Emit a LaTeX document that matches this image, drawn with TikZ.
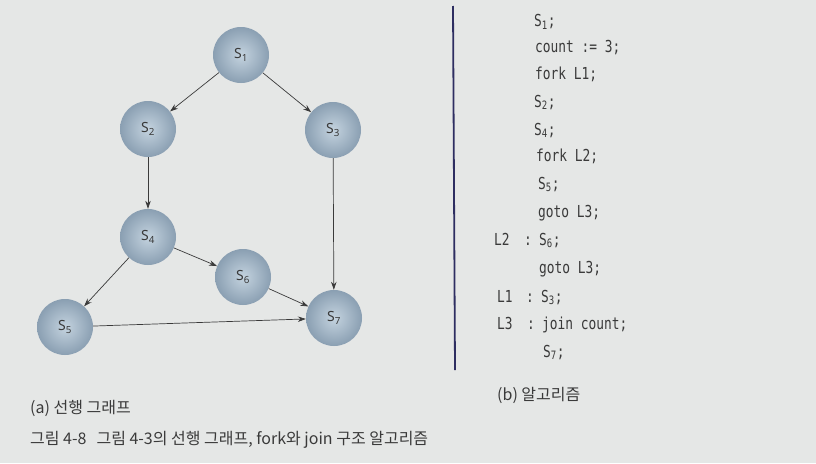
\documentclass[tikz,border=0pt]{standalone}
\usepackage{fontspec}
\setmainfont{Noto Sans}
\newfontfamily\kr{Noto Sans CJK KR}
\newfontfamily\codefont[FakeStretch=0.78]{DejaVu Sans Mono}
\usetikzlibrary{arrows.meta}
\definecolor{bg}{HTML}{E5E7E6}
\definecolor{ballin}{HTML}{C4D3DF}
\definecolor{ballout}{HTML}{8A9FB2}
\definecolor{ink}{HTML}{3A3A3A}
\tikzset{
  proc/.style={circle, minimum size=56pt, inner sep=0pt, inner color=ballin, outer color=ballout, text=ink, font=\fontsize{14}{15}\selectfont},
  arr/.style={draw=ink, line width=0.7pt, -{Stealth[length=8pt,width=5.5pt]}},
  code/.style={anchor=base west, inner sep=0pt, text=ink, font=\codefont\fontsize{16.5}{18}\selectfont},
  captext/.style={anchor=base west, inner sep=0pt, text=ink, font=\kr\fontsize{16}{18}\selectfont}
}
\newcommand{\sx}[1]{S\textsubscript{#1}}
\begin{document}
\begin{tikzpicture}[x=1pt,y=-1pt]
\fill[bg] (0,0) rectangle (816,463);
\useasboundingbox (0,0) rectangle (816,463);
% nodes
\node[proc] (s1) at (241,55) {\sx{1}};
\node[proc] (s2) at (148,129) {\sx{2}};
\node[proc] (s3) at (333,130) {\sx{3}};
\node[proc] (s4) at (148,237) {\sx{4}};
\node[proc] (s6) at (243,277) {\sx{6}};
\node[proc] (s5) at (65,327) {\sx{5}};
\node[proc] (s7) at (334,318) {\sx{7}};
% edges
\draw[arr] (s1) -- (s2);
\draw[arr] (s1) -- (s3);
\draw[arr] (s2) -- (s4);
\draw[arr] (s3) -- (s7);
\draw[arr] (s4) -- (s6);
\draw[arr] (s4) -- (s5);
\draw[arr] (s6) -- (s7);
\draw[arr] (s5) -- (s7);
% divider
\coordinate (vt) at (453,6);
\coordinate (vb) at (455,370);
\draw[draw=ink!80!blue, line width=1.8pt] (vt) -- (vb);
% code
\node[code] (c1) at (534,27) {\sx{1};};
\node[code] (c2) at (535,52) {count := 3;};
\node[code] (c3) at (535,79) {fork L1;};
\node[code] (c4) at (534,107) {\sx{2};};
\node[code] (c5) at (534,135) {\sx{4};};
\node[code] (c6) at (536,161) {fork L2;};
\node[code] (c7) at (538,189) {\sx{5};};
\node[code] (c8) at (538,217) {goto L3;};
\node[code] (c9l) at (494,245) {L2};
\node[code] (c9c) at (524,245) {:};
\node[code] (c9) at (539,245) {\sx{6};};
\node[code] (c10) at (539,273) {goto L3;};
\node[code] (c11l) at (497,302) {L1};
\node[code] (c11c) at (526,302) {:};
\node[code] (c11) at (541,302) {\sx{3};};
\node[code] (c12l) at (497,329) {L3};
\node[code] (c12c) at (527,329) {:};
\node[code] (c12) at (542,329) {join count;};
\node[code] (c13) at (543,357) {\sx{7};};
% captions
\node[captext] (cb) at (497,400) {(b) 알고리즘};
\node[captext] (ca) at (30,413) {(a) 선행 그래프};
\node[captext] (cf) at (30,444) {그림 4-8\hspace{10pt}그림 4-3의 선행 그래프, fork와 join 구조 알고리즘};
\end{tikzpicture}
\end{document}
